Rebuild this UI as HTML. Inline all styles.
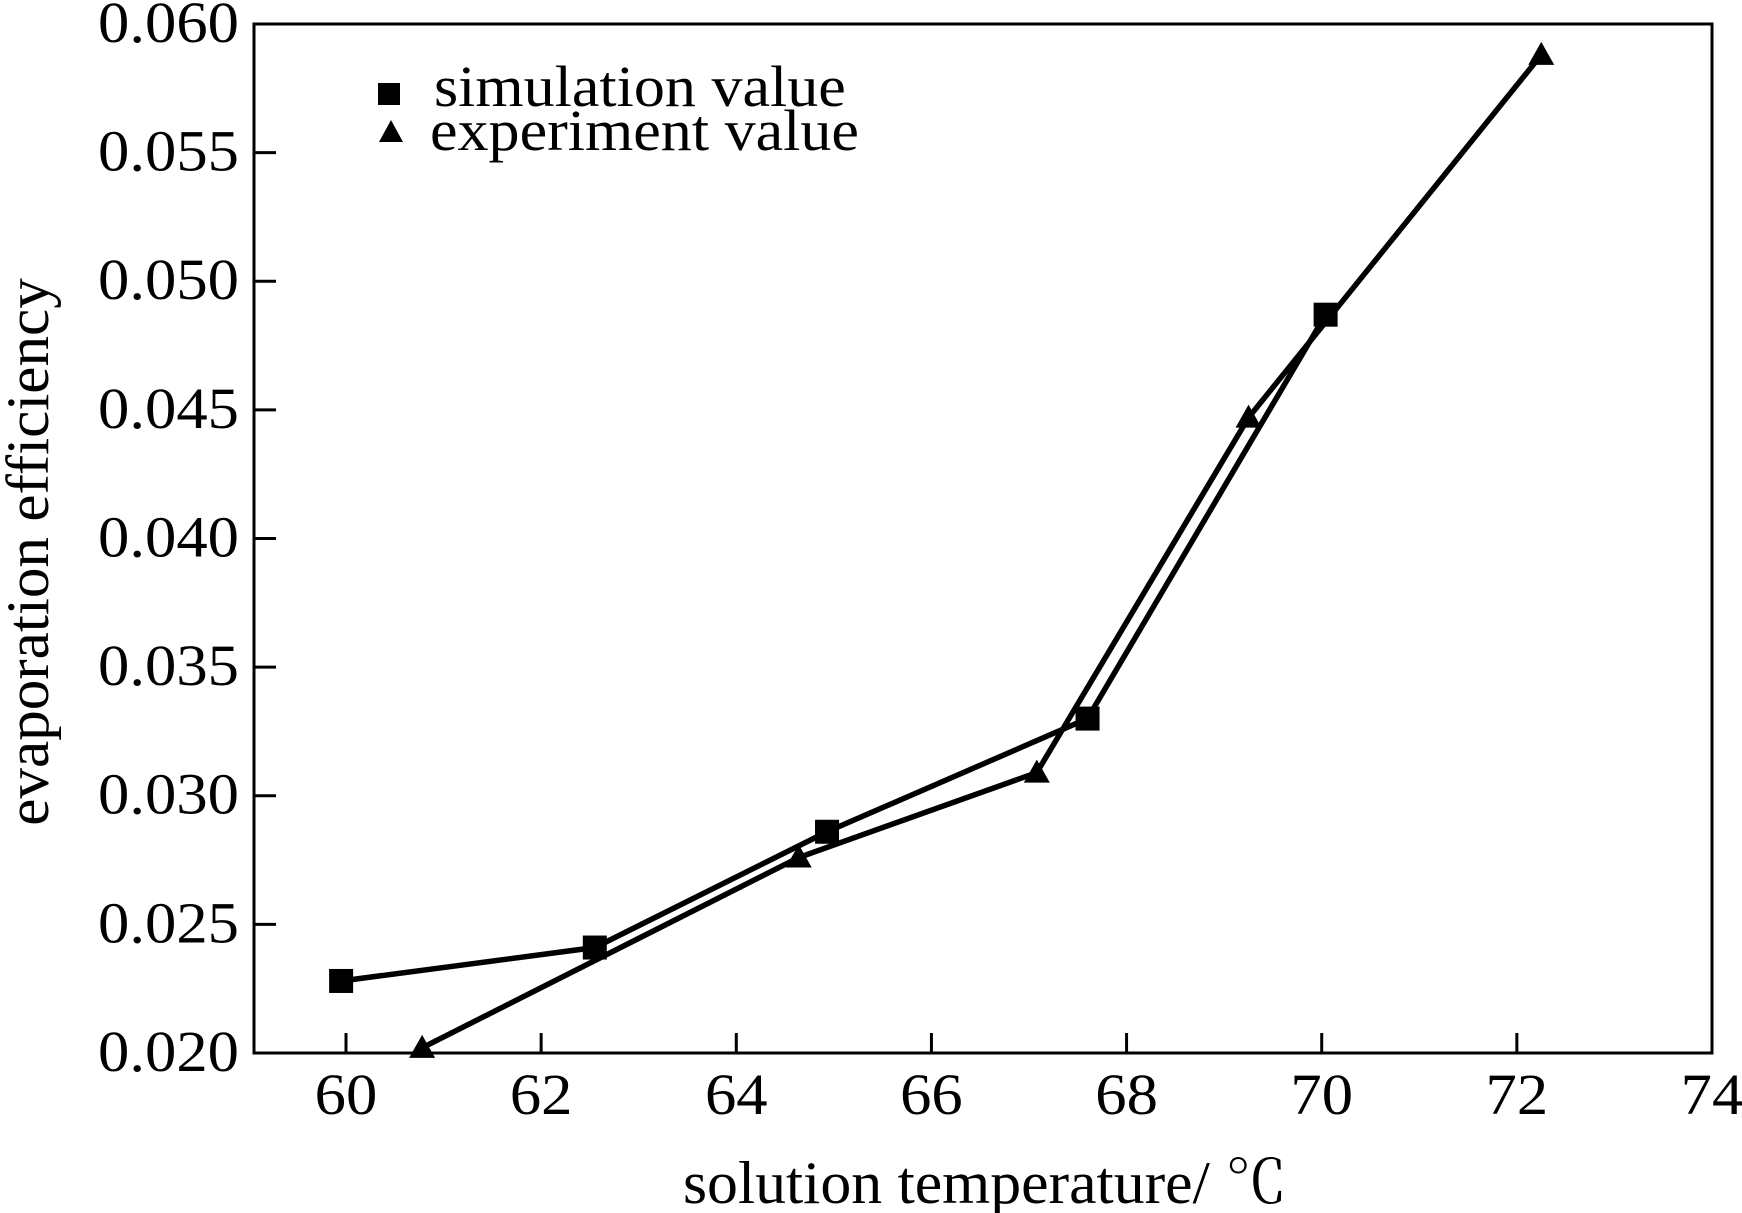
<!DOCTYPE html>
<html><head><meta charset="utf-8"><style>
html,body{margin:0;padding:0;background:#fff;}
svg{display:block;}
text{font-family:"Liberation Serif","Noto Serif CJK SC",serif;fill:#000;}
</style></head><body>
<svg id="chart" width="1742" height="1213" viewBox="0 0 1742 1213" xmlns="http://www.w3.org/2000/svg">
<rect x="254" y="24" width="1458" height="1029" fill="none" stroke="#000" stroke-width="3"/>
<g id="ticks"></g>
<g id="series"></g>
<g>
<rect x="378" y="83" width="22" height="22" fill="#000"/>
<text x="434" y="106" font-size="58" transform="translate(434,0) scale(1.07,1) translate(-434,0)">simulation value</text>
<polygon points="391,120 403,142 379,142" fill="#000"/>
<text x="430" y="150" font-size="58" transform="translate(430,0) scale(1.07,1) translate(-430,0)">experiment value</text>
</g>
<text x="985" y="1203" font-size="60" text-anchor="middle" transform="translate(985,0) scale(1.03,1) translate(-985,0)">solution temperature/ ℃</text>
<text x="0" y="0" font-size="60" text-anchor="middle" transform="translate(48,552) rotate(-90) scale(1.02,1)">evaporation efficiency</text>
</svg>
<script>
const xTicks = [60,62,64,66,68,70,72,74];
const yTicks = [0.020,0.025,0.030,0.035,0.040,0.045,0.050,0.055,0.060];
const yTickLabels = ["0.020","0.025","0.030","0.035","0.040","0.045","0.050","0.055","0.060"];
const simX = [59.95,62.55,64.93,67.6,70.04];
const simY = [0.0228,0.0241,0.0286,0.0330,0.0487];
const expX = [60.78,64.64,67.08,69.25,72.25];
const expY = [0.0202,0.0276,0.0309,0.0447,0.0588];

const NS="http://www.w3.org/2000/svg";
const L=254,R=1712,T=24,B=1053;
function sx(v){return 346+(v-60)*(1712-346)/14;}
function sy(v){return B-(v-0.02)*(B-T)/0.04;}
function mk(tag,attrs,parent){const e=document.createElementNS(NS,tag);for(const k in attrs)e.setAttribute(k,attrs[k]);parent.appendChild(e);return e;}
const tg=document.getElementById('ticks');
xTicks.forEach(v=>{
  const x=sx(v);
  const t=mk('line',{x1:x,x2:x,y1:B,y2:B-20,stroke:'#000','stroke-width':3},tg);
  
  
  const tx=mk('text',{x:x,y:1114,'font-size':58,'text-anchor':'middle',transform:`translate(${x},0) scale(1.08,1) translate(${-x},0)`},tg);
  tx.textContent=String(v);
  
  
});
yTicks.forEach((v,i)=>{
  const y=sy(v);
  if(i>0&&i<yTicks.length-1){
    const t=mk('line',{x1:L,x2:L+22,y1:y,y2:y,stroke:'#000','stroke-width':3},tg);
    
    
  }
  const tx=mk('text',{x:239,y:y+18,'font-size':58,'text-anchor':'end',transform:`translate(239,0) scale(1.08,1) translate(-239,0)`},tg);
  tx.textContent=yTickLabels[i];
  
  
});
const sg=document.getElementById('series');
function drawLine(xs,ys,name){
  const pts=xs.map((x,i)=>sx(x)+','+sy(ys[i])).join(' ');
  const p=mk('polyline',{points:pts,fill:'none',stroke:'#000','stroke-width':5.5,'stroke-linejoin':'miter'},sg);
  
  
}
drawLine(simX,simY,'simulation-line');
drawLine(expX,expY,'experiment-line');
simX.forEach((x,i)=>{
  const cx=sx(x),cy=sy(simY[i]);
  const r=mk('rect',{x:cx-12,y:cy-12,width:24,height:24,fill:'#000'},sg);
  
  
});
expX.forEach((x,i)=>{
  const cx=sx(x),cy=sy(expY[i]);
  const p=mk('polygon',{points:`${cx},${cy-13} ${cx+13},${cy+10} ${cx-13},${cy+10}`,fill:'#000'},sg);
  
  
});
</script>
</body></html>
